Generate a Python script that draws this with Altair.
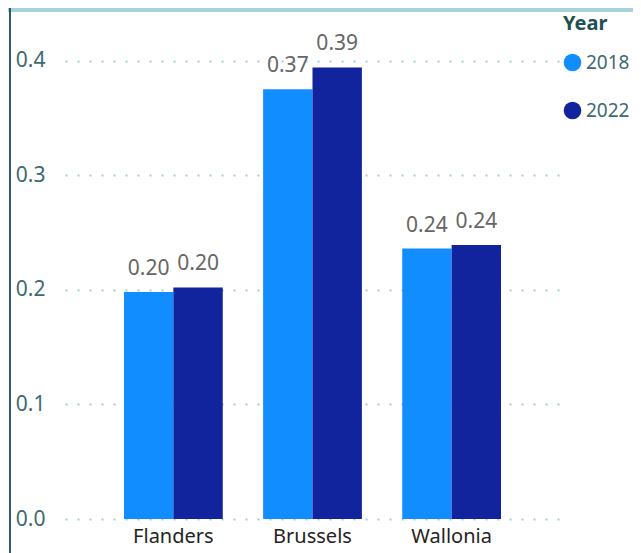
import altair as alt
import pandas as pd

regions = ["Flanders", "Brussels", "Wallonia"]
years = ["2018", "2022"]
v2018 = [0.198, 0.3749, 0.236]
v2022 = [0.202, 0.394, 0.239]
y_ticks = [0.0, 0.1, 0.2, 0.3, 0.4]
colors = ["#118DFF", "#12239E"]

rows = []
for r, a, b in zip(regions, v2018, v2022):
    rows.append({"Region": r, "Year": years[0], "Value": a})
    rows.append({"Region": r, "Year": years[1], "Value": b})
df = pd.DataFrame(rows)

FONT = "Noto Sans"

x_enc = alt.X("Region:N", sort=regions, title=None,
              scale=alt.Scale(paddingInner=0.29, paddingOuter=0.424),
              axis=alt.Axis(labelAngle=0, labelFontSize=20, labelColor="#252423",
                            labelFont=FONT, ticks=False, domain=False, labelPadding=7,
                            grid=False))
y_enc = alt.Y("Value:Q", title=None,
              scale=alt.Scale(domain=[0, 0.4197], nice=False, zero=True),
              axis=alt.Axis(values=y_ticks, format=".1f", labelFontSize=21,
                            labelColor="#3d6a71", labelFont=FONT, ticks=False,
                            domain=False, labelPadding=20, grid=True,
                            gridColor="#9fcfd3", gridDash=[2, 10], gridWidth=2))
xo = alt.XOffset("Year:N", sort=years, scale=alt.Scale(paddingInner=0, paddingOuter=0))
color = alt.Color("Year:N", sort=years,
                  scale=alt.Scale(domain=years, range=colors),
                  legend=alt.Legend(title="Year", orient="none", legendX=498, legendY=-24,
                                    titleFontSize=20, titleFont=FONT, titleColor="#1f4f57",
                                    titleFontWeight="bold", titlePadding=19,
                                    labelFontSize=19, labelFont=FONT, labelColor="#3d6a71",
                                    symbolType="circle", symbolSize=310, symbolStrokeWidth=0,
                                    symbolOpacity=1, rowPadding=28, labelOffset=4))

base = alt.Chart(df)
bars = base.mark_bar().encode(x=x_enc, y=y_enc, xOffset=xo, color=color)
labels = base.mark_text(dy=-17, baseline="alphabetic", fontSize=21, font=FONT,
                        color="#666666").encode(
    x=alt.X("Region:N", sort=regions), y="Value:Q", xOffset=xo,
    text=alt.Text("Value:Q", format=".2f"))

one = alt.Chart(pd.DataFrame({"a": [0]}))
top_band = one.mark_rule(color="#a6d2d8", strokeWidth=4).encode(
    x=alt.value(-57), x2=alt.value(568), y=alt.value(-28))
left_border = one.mark_rule(color="#2e5b63", strokeWidth=2).encode(
    x=alt.value(-55), y=alt.value(-30), y2=alt.value(515))

chart = alt.layer(bars, labels, top_band, left_border).properties(
    width=495, height=481,
    padding={"left": 57, "top": 30, "right": 73, "bottom": 34},
    autosize=alt.AutoSizeParams(type="none"),
).configure(font=FONT).configure_view(stroke=None)

chart.save("out.html", embed_options={"renderer": "svg", "actions": False})
